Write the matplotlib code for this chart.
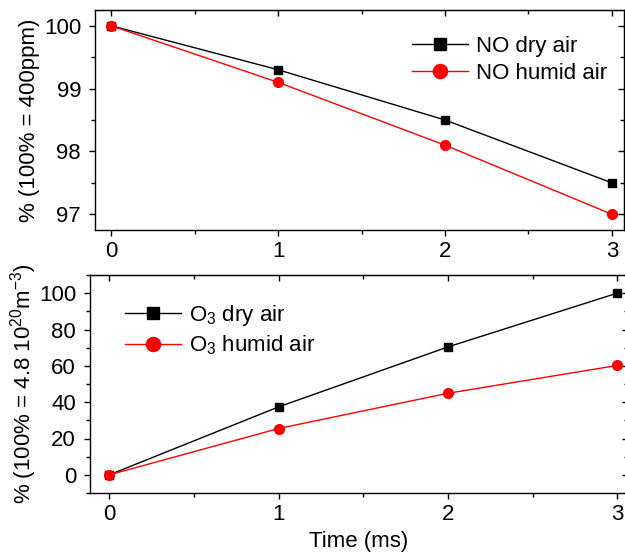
import matplotlib
matplotlib.use("Agg")
import matplotlib.pyplot as plt
from matplotlib.ticker import MultipleLocator

plt.rcParams['font.family'] = ['Liberation Sans', 'DejaVu Sans']
plt.rcParams['mathtext.fontset'] = 'custom'
plt.rcParams['mathtext.rm'] = 'Liberation Sans'
plt.rcParams['mathtext.it'] = 'Liberation Sans'

time_ms = [0, 1, 2, 3]
no_dry = [100, 99.3, 98.5, 97.5]
no_humid = [100, 99.1, 98.1, 97.0]
o3_dry = [0, 37.4, 70.4, 100]
o3_humid = [0, 25.5, 44.9, 60.2]

W, H = 625, 554
fig = plt.figure(figsize=(W / 100, H / 100), dpi=100)

def px_axes(left, top, right, bottom):
    return fig.add_axes([left / W, (H - bottom) / H, (right - left) / W, (bottom - top) / H])

FS = 16

def style(ax, xmaj, xmin, ymaj, ymin):
    ax.xaxis.set_major_locator(MultipleLocator(xmaj))
    ax.xaxis.set_minor_locator(MultipleLocator(xmin))
    ax.yaxis.set_major_locator(MultipleLocator(ymaj))
    ax.yaxis.set_minor_locator(MultipleLocator(ymin))
    ax.tick_params(which='both', direction='out', top=False, right=False, labelsize=FS, width=1)
    ax.tick_params(which='major', length=4)
    ax.tick_params(which='minor', length=3)
    ax.tick_params(axis='y', which='major', pad=6)
    ax.tick_params(axis='x', which='major', pad=4)
    for s in ax.spines.values():
        s.set_linewidth(1)
    sx = ax.secondary_xaxis('top')
    sx.xaxis.set_major_locator(MultipleLocator(xmaj))
    sx.xaxis.set_minor_locator(MultipleLocator(xmin))
    sx.tick_params(which='both', direction='in', labeltop=False, width=1)
    sx.tick_params(which='major', length=4)
    sx.tick_params(which='minor', length=3)
    sy = ax.secondary_yaxis('right')
    sy.yaxis.set_major_locator(MultipleLocator(ymaj))
    sy.yaxis.set_minor_locator(MultipleLocator(ymin))
    sy.tick_params(which='both', direction='in', labelright=False, width=1)
    sy.tick_params(which='major', length=4)
    sy.tick_params(which='minor', length=3)

leg_kw = dict(loc='upper left', frameon=False, fontsize=FS, handlelength=2.5,
              handletextpad=0.4, labelspacing=0.25, markerscale=1.45,
              borderaxespad=0, borderpad=0, bbox_transform=fig.transFigure)

# Top panel
ax1 = px_axes(95, 10, 624, 230)
ax1.plot(time_ms, no_dry, color='black', lw=1, marker='s', ms=6, label='NO dry air')
ax1.plot(time_ms, no_humid, color='red', lw=1, marker='o', ms=7, label='NO humid air')
ax1.set_xlim(-0.096, 3.072)
ax1.set_ylim(96.75, 100.25)
style(ax1, 1, 0.5, 1, 0.5)
ax1.set_ylabel('% (100% = 400ppm)', fontsize=FS, labelpad=3)
ax1.legend(bbox_to_anchor=(412 / W, 1 - 36 / H), **leg_kw)

# Bottom panel
ax2 = px_axes(90, 275, 628, 493)
ax2.plot(time_ms, o3_dry, color='black', lw=1, marker='s', ms=6, label='O$_3$ dry air')
ax2.plot(time_ms, o3_humid, color='red', lw=1, marker='o', ms=7, label='O$_3$ humid air')
ax2.set_xlim(-0.114, 3.064)
ax2.set_ylim(-10, 110)
style(ax2, 1, 0.5, 20, 10)
ax2.set_xlabel('Time (ms)', fontsize=FS, labelpad=4)
ax2.set_ylabel('% (100% = 4.8 10$^{20}$m$^{-3}$)', fontsize=FS, labelpad=0)
ax2.legend(bbox_to_anchor=(125 / W, 1 - 303 / H), **leg_kw)

fig.savefig('out.png', dpi=100)
